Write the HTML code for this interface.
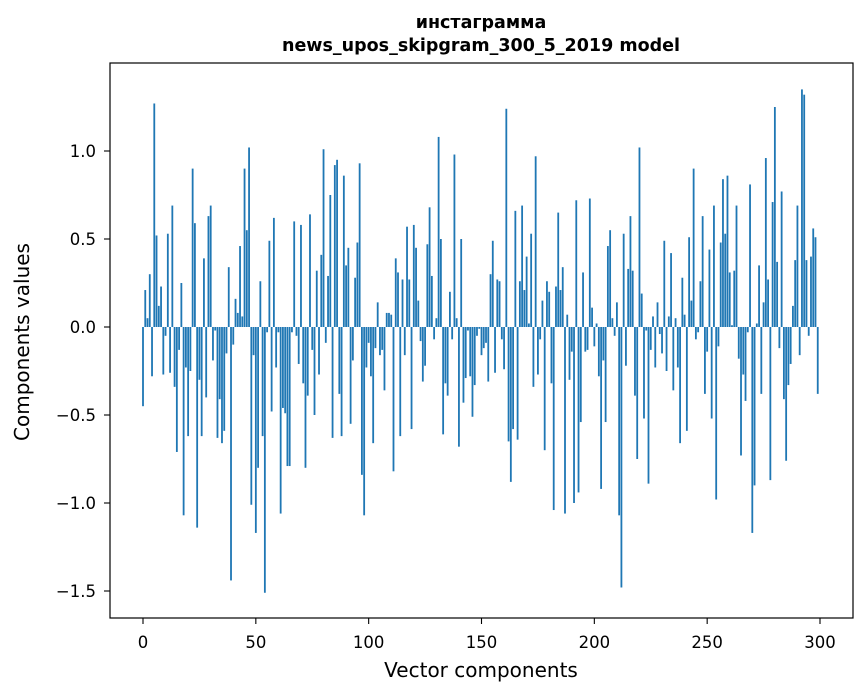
<!DOCTYPE html>
<html><head><meta charset="utf-8"><style>
html,body{margin:0;padding:0;background:#fff;}
svg{display:block;font-family:"DejaVu Sans","Liberation Sans",sans-serif;}
</style></head><body>
<svg id="chart" width="867" height="696" viewBox="0 0 867 696" xmlns="http://www.w3.org/2000/svg">
<rect x="0" y="0" width="867" height="696" fill="#fff"/>
<text x="481" y="28" text-anchor="middle" font-size="17.5" font-weight="bold">инстаграмма</text>
<text x="481" y="51" text-anchor="middle" font-size="17.5" font-weight="bold">news_upos_skipgram_300_5_2019 model</text>
<g id="bars"></g>
<g id="axes"></g>
<rect x="110" y="63" width="743" height="555" fill="none" stroke="#000" stroke-width="1.2"/>
<text x="481" y="677" text-anchor="middle" font-size="20">Vector components</text>
<text transform="translate(29,342) rotate(-90)" text-anchor="middle" font-size="20">Components values</text>
</svg>
<script>
const values = [
-0.45,0.21,0.05,0.30,-0.28,1.27,0.52,0.12,0.23,-0.27,
-0.05,0.53,-0.26,0.69,-0.34,-0.71,-0.13,0.25,-1.07,-0.23,
-0.62,-0.25,0.90,0.59,-1.14,-0.30,-0.62,0.39,-0.40,0.63,
0.69,-0.19,-0.02,-0.63,-0.41,-0.66,-0.59,-0.15,0.34,-1.44,
-0.10,0.16,0.08,0.46,0.06,0.90,0.55,1.02,-1.01,-0.16,
-1.17,-0.80,0.26,-0.62,-1.51,-0.03,0.49,-0.48,0.62,-0.23,
-0.03,-1.06,-0.46,-0.49,-0.79,-0.79,-0.03,0.60,-0.05,-0.21,
0.58,-0.32,-0.80,-0.39,0.64,-0.13,-0.50,0.32,-0.27,0.41,
1.01,-0.09,0.29,0.75,-0.63,0.92,0.95,-0.38,-0.62,0.86,
0.35,0.45,-0.55,-0.19,0.28,0.48,0.93,-0.84,-1.07,-0.23,
-0.09,-0.28,-0.66,-0.12,0.14,-0.16,-0.13,-0.36,0.08,0.08,
0.07,-0.82,0.39,0.31,-0.62,0.27,-0.16,0.57,0.27,-0.58,
0.58,0.45,0.15,-0.08,-0.31,-0.22,0.47,0.68,0.29,-0.07,
0.05,1.08,0.50,-0.61,-0.32,-0.39,0.20,-0.07,0.98,0.05,
-0.68,0.50,-0.43,-0.29,-0.02,-0.28,-0.51,-0.33,-0.05,-0.01,
-0.16,-0.12,-0.09,-0.31,0.30,0.49,-0.26,0.27,0.26,-0.07,
-0.24,1.24,-0.65,-0.88,-0.58,0.66,-0.64,0.26,0.69,0.21,
0.40,0.02,0.53,-0.34,0.97,-0.27,-0.07,0.15,-0.70,0.26,
0.20,-0.32,-1.04,0.23,0.65,0.21,0.34,-1.06,0.07,-0.30,
-0.14,-1.00,0.72,-0.94,-0.54,0.31,-0.14,-0.13,0.73,0.11,
-0.11,0.02,-0.28,-0.92,-0.19,-0.54,0.46,0.55,0.05,-0.05,
0.14,-1.07,-1.48,0.53,-0.22,0.33,0.63,0.32,-0.39,-0.75,
1.02,0.19,-0.52,-0.02,-0.89,-0.13,0.06,-0.23,0.14,-0.04,
-0.15,0.49,-0.25,0.06,0.42,-0.36,0.05,-0.23,-0.66,0.28,
0.07,-0.59,0.51,0.15,0.90,-0.07,-0.03,0.26,0.63,-0.38,
-0.14,0.44,-0.52,0.69,-0.98,-0.11,0.48,0.84,0.53,0.86,
0.31,0.01,0.32,0.69,-0.18,-0.73,-0.27,-0.42,-0.03,0.81,
-1.17,-0.90,0.02,0.35,-0.38,0.14,0.96,0.27,-0.87,0.71,
1.25,0.37,-0.12,0.77,-0.41,-0.76,-0.33,-0.21,0.12,0.38,
0.69,-0.16,1.35,1.32,0.38,-0.05,0.40,0.56,0.51,-0.38
];
const xTicks = [0,50,100,150,200,250,300];
const yTicks = [-1.5,-1.0,-0.5,0.0,0.5,1.0];
const yTickLabels = ["\u22121.5","\u22121.0","\u22120.5","0.0","0.5","1.0"];

const NS = "http://www.w3.org/2000/svg";
function xScale(i){ return 143 + (820-143) * i / 300; }
function yScale(v){ return 327 - 176 * v; }
const barW = (820-143)/300*0.8;
const barsG = document.getElementById('bars');
values.forEach(function(v,i){
  const r = document.createElementNS(NS,'rect');
  
  
  const y0 = yScale(0), y1 = yScale(v);
  r.setAttribute('x', xScale(i) - barW/2);
  r.setAttribute('y', Math.min(y0,y1));
  r.setAttribute('width', barW);
  r.setAttribute('height', Math.max(Math.abs(y1-y0), 0.3));
  r.setAttribute('fill', '#1f77b4');
  barsG.appendChild(r);
});
const axesG = document.getElementById('axes');
xTicks.forEach(function(t){
  const x = xScale(t);
  const l = document.createElementNS(NS,'line');
  
  
  l.setAttribute('x1',x); l.setAttribute('x2',x);
  l.setAttribute('y1',618); l.setAttribute('y2',624);
  l.setAttribute('stroke','#000'); l.setAttribute('stroke-width','1.1');
  axesG.appendChild(l);
  const tx = document.createElementNS(NS,'text');
  
  
  tx.setAttribute('x',x); tx.setAttribute('y',648);
  tx.setAttribute('text-anchor','middle'); tx.setAttribute('font-size','16.5');
  tx.textContent = String(t);
  axesG.appendChild(tx);
});
yTicks.forEach(function(t,k){
  const y = yScale(t);
  const l = document.createElementNS(NS,'line');
  
  
  l.setAttribute('x1',104); l.setAttribute('x2',110);
  l.setAttribute('y1',y); l.setAttribute('y2',y);
  l.setAttribute('stroke','#000'); l.setAttribute('stroke-width','1.1');
  axesG.appendChild(l);
  const tx = document.createElementNS(NS,'text');
  
  
  tx.setAttribute('x',96); tx.setAttribute('y',y+6);
  tx.setAttribute('text-anchor','end'); tx.setAttribute('font-size','16.5');
  tx.textContent = yTickLabels[k];
  axesG.appendChild(tx);
});
</script>
</body></html>
